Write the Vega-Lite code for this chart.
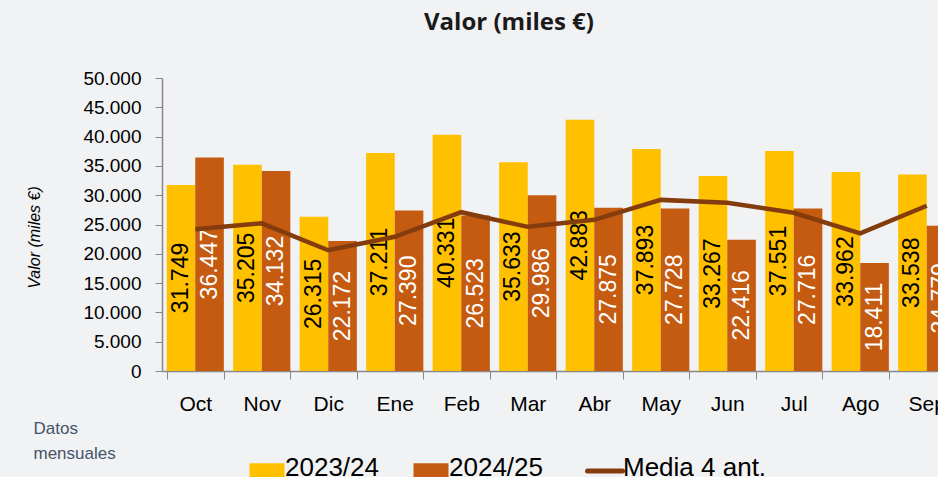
{
  "$schema": "https://vega.github.io/schema/vega-lite/v6.json",
  "autosize": {"type": "none"},
  "width": 776,
  "height": 293,
  "padding": {"left": 162, "top": 78, "right": 0, "bottom": 106},
  "background": "#F1F2F4",
  "config": {
    "locale": {"number": {"decimal": ",", "thousands": ".", "grouping": [3], "currency": ["", " €"]}},
    "view": {"stroke": null},
    "font": "Liberation Sans"
  },
  "title": {
    "text": "Valor (miles €)",
    "font": "Open Sans",
    "fontSize": 24,
    "fontWeight": "bold",
    "color": "#1a1a1a",
    "anchor": "middle",
    "dx": -41,
    "offset": 34
  },
  "datasets": {
    "bars": [
      {"mes": "Oct", "serie": "2023/24", "valor": 31749},
      {"mes": "Oct", "serie": "2024/25", "valor": 36447},
      {"mes": "Nov", "serie": "2023/24", "valor": 35205},
      {"mes": "Nov", "serie": "2024/25", "valor": 34132},
      {"mes": "Dic", "serie": "2023/24", "valor": 26315},
      {"mes": "Dic", "serie": "2024/25", "valor": 22172},
      {"mes": "Ene", "serie": "2023/24", "valor": 37211},
      {"mes": "Ene", "serie": "2024/25", "valor": 27390},
      {"mes": "Feb", "serie": "2023/24", "valor": 40331},
      {"mes": "Feb", "serie": "2024/25", "valor": 26523},
      {"mes": "Mar", "serie": "2023/24", "valor": 35633},
      {"mes": "Mar", "serie": "2024/25", "valor": 29986},
      {"mes": "Abr", "serie": "2023/24", "valor": 42883},
      {"mes": "Abr", "serie": "2024/25", "valor": 27875},
      {"mes": "May", "serie": "2023/24", "valor": 37893},
      {"mes": "May", "serie": "2024/25", "valor": 27728},
      {"mes": "Jun", "serie": "2023/24", "valor": 33267},
      {"mes": "Jun", "serie": "2024/25", "valor": 22416},
      {"mes": "Jul", "serie": "2023/24", "valor": 37551},
      {"mes": "Jul", "serie": "2024/25", "valor": 27716},
      {"mes": "Ago", "serie": "2023/24", "valor": 33962},
      {"mes": "Ago", "serie": "2024/25", "valor": 18411},
      {"mes": "Sep", "serie": "2023/24", "valor": 33538},
      {"mes": "Sep", "serie": "2024/25", "valor": 24779}
    ],
    "media": [
      {"mes": "Oct", "valor": 24200},
      {"mes": "Nov", "valor": 25200},
      {"mes": "Dic", "valor": 20600},
      {"mes": "Ene", "valor": 22900},
      {"mes": "Feb", "valor": 27100},
      {"mes": "Mar", "valor": 24600},
      {"mes": "Abr", "valor": 25800},
      {"mes": "May", "valor": 29200},
      {"mes": "Jun", "valor": 28700},
      {"mes": "Jul", "valor": 27000},
      {"mes": "Ago", "valor": 23500},
      {"mes": "Sep", "valor": 28200}
    ]
  },
  "layer": [
    {
      "data": {"name": "bars"},
      "mark": {"type": "bar"},
      "encoding": {
        "x": {
          "field": "mes",
          "type": "nominal",
          "sort": ["Oct", "Nov", "Dic", "Ene", "Feb", "Mar", "Abr", "May", "Jun", "Jul", "Ago", "Sep"],
          "scale": {"range": [0, 798], "paddingInner": 0.14, "paddingOuter": 0.07},
          "axis": {
            "labelAngle": 0,
            "labelFontSize": 21,
            "labelColor": "#000000",
            "labelPadding": 14,
            "tickBand": "extent",
            "tickSize": 8,
            "tickColor": "#888888",
            "domainColor": "#888888",
            "domainWidth": 1.5,
            "title": ["Datos", "mensuales"],
            "titleFont": "Liberation Sans",
            "titleFontSize": 17,
            "titleFontWeight": "normal",
            "titleColor": "#44546A",
            "titleAnchor": "start",
            "titleAlign": "left",
            "titleBaseline": "middle",
            "titleX": -129,
            "titleY": 57,
            "titleLineHeight": 25
          }
        },
        "xOffset": {"field": "serie", "type": "nominal", "sort": ["2023/24", "2024/25"]},
        "y": {
          "field": "valor",
          "type": "quantitative",
          "scale": {"domain": [0, 50000], "nice": false},
          "axis": {
            "values": [0, 5000, 10000, 15000, 20000, 25000, 30000, 35000, 40000, 45000, 50000],
            "format": ",d",
            "grid": false,
            "labelFontSize": 19,
            "labelColor": "#000000",
            "labelPadding": 14,
            "tickSize": 7,
            "tickColor": "#888888",
            "domainColor": "#888888",
            "domainWidth": 1.5,
            "title": "Valor (miles €)",
            "titleFont": "Liberation Sans",
            "titleFontStyle": "italic",
            "titleFontWeight": "normal",
            "titleFontSize": 16,
            "titleColor": "#000000",
            "titleAngle": 270,
            "titleAlign": "center",
            "titleBaseline": "middle",
            "titleX": -128,
            "titleY": 159
          }
        },
        "color": {
          "field": "serie",
          "type": "nominal",
          "scale": {"domain": ["2023/24", "2024/25", "Media 4 ant."], "range": ["#FFC000", "#C55A11", "#843C0C"]},
          "legend": {
            "title": null,
            "orient": "none",
            "legendX": 92,
            "legendY": 380,
            "direction": "horizontal",
            "labelFont": "Liberation Sans",
            "labelFontSize": 26,
            "labelColor": "#000000",
            "labelOffset": 5,
            "columnPadding": 34,
            "symbolSize": 1225,
            "symbolOpacity": 1,
            "encode": {
              "labels": {
                "update": {
                  "dy": {"value": -3}
                }
              },
              "symbols": {
                "update": {
                  "shape": {"signal": "datum.value === 'Media 4 ant.' ? 'stroke' : 'M-1,-0.45H1V0.45H-1Z'"},
                  "fill": {"scale": "color", "field": "value"},
                  "stroke": {"scale": "color", "field": "value"},
                  "strokeWidth": {"signal": "datum.value === 'Media 4 ant.' ? 5 : 0"},
                  "strokeCap": {"value": "round"},
                  "opacity": {"value": 1}
                }
              }
            }
          }
        }
      }
    },
    {
      "data": {"name": "bars"},
      "mark": {"type": "text", "angle": 270, "align": "center", "baseline": "middle", "fontSize": 23, "font": "Liberation Sans"},
      "encoding": {
        "x": {"field": "mes", "type": "nominal", "sort": ["Oct", "Nov", "Dic", "Ene", "Feb", "Mar", "Abr", "May", "Jun", "Jul", "Ago", "Sep"]},
        "xOffset": {"field": "serie", "type": "nominal", "sort": ["2023/24", "2024/25"]},
        "y": {"field": "valor", "type": "quantitative", "scale": {"domain": [0, 100000], "nice": false}, "axis": null},
        "text": {"field": "valor", "type": "quantitative", "format": ",d"},
        "color": {"condition": {"test": "datum.serie === '2024/25'", "value": "#FFFFFF"}, "value": "#000000"}
      }
    },
    {
      "data": {"name": "media"},
      "mark": {"type": "line", "strokeWidth": 4.5},
      "encoding": {
        "x": {"field": "mes", "type": "nominal", "sort": ["Oct", "Nov", "Dic", "Ene", "Feb", "Mar", "Abr", "May", "Jun", "Jul", "Ago", "Sep"]},
        "y": {"field": "valor", "type": "quantitative", "scale": {"domain": [0, 50000], "nice": false}, "axis": null},
        "color": {"datum": "Media 4 ant."}
      }
    }
  ],
  "resolve": {"scale": {"y": "independent"}}
}
